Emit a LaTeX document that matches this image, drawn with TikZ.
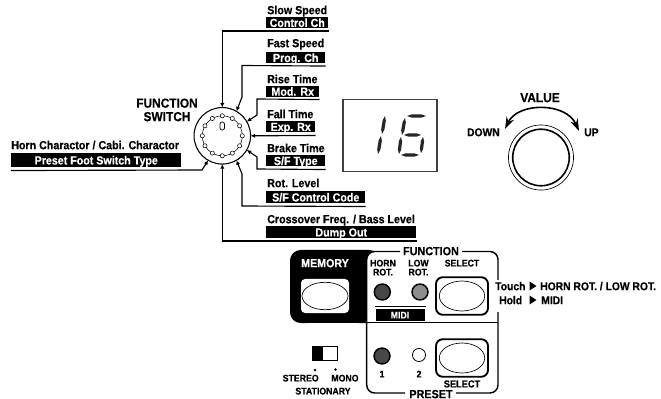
\documentclass[tikz,border=0pt]{standalone}
\usepackage{fontspec}
\usetikzlibrary{arrows.meta,calc}
\newfontfamily\lbf{Liberation Sans}[FakeStretch=0.91,FakeBold=0.4]
\tikzset{
 x=0.75pt,y=-0.75pt,
 lab/.style={font=\lbf\bfseries\fontsize{8.8}{9}\selectfont,inner sep=0,anchor=west,text=black,text height=6.3pt,text depth=0pt},
 ctr/.style={lab,anchor=center},
 big/.style={ctr,font=\lbf\bfseries\fontsize{9.8}{10}\selectfont,text height=7pt},
 small/.style={ctr,font=\lbf\bfseries\fontsize{7.2}{7.5}\selectfont,text height=5.2pt},
 bar/.style={draw=none,fill=black,text=white,font=\lbf\bfseries\fontsize{8.8}{9}\selectfont,inner sep=0,anchor=north west,text height=6.3pt,text depth=0pt,align=center},
 lead/.style={line width=0.85pt,black},
 tip/.style={lead,-{Latex[length=3.4pt,width=3.2pt]}},
 led/.style={circle,draw=black,line width=1.1pt,inner sep=0},
 btn/.style={draw=black,line width=1.4pt,rounded corners=5pt,fill=white},
 oval/.style={draw=black,line width=0.5pt,fill=white},
 panel/.style={line width=1.1pt,black,rounded corners=6pt},
 seg/.style={fill=black!85},
}
\newcommand\sgm[2]{\fill[seg] (#1) -- ($(#1)!.25!(#2)!1.2pt!90:(#2)$) -- ($(#1)!.75!(#2)!1.2pt!90:(#2)$) -- (#2) -- ($(#1)!.75!(#2)!1.2pt!-90:(#2)$) -- ($(#1)!.25!(#2)!1.2pt!-90:(#2)$) -- cycle;}
\begin{document}
\begin{tikzpicture}
\useasboundingbox (0,0) rectangle (661,399);
\fill[white] (0,0) rectangle (661,399);
% function switch
\node[circle,draw=black,line width=0.8pt,minimum size=42.4pt,inner sep=0,outer sep=0] (sw) at (222.3,135.8) {};
\draw[line width=0.4pt] (222.3,135.8) circle (20);
\foreach \a in {0,30,...,330}
  \draw[line width=0.4pt,fill=white] ($(222.3,135.8)+(\a:20)$) circle (2.1);
\draw[line width=0.5pt,rounded corners=1.5pt] (220,122) rectangle (224.5,130);
\node[big] (fn) at (167,103) {FUNCTION};
\node[big] (sn) at (167,116.5) {SWITCH};
% labels
\node[lab] (t1) at (267,10) {Slow Speed};
\node[bar,minimum width=62*0.75pt,minimum height=11*0.75pt] (b1) at (266,17) {Control Ch};
\node[lab] (t2) at (267,43) {Fast Speed};
\node[bar,minimum width=59*0.75pt,minimum height=11*0.75pt] (b2) at (266,52) {Prog. Ch};
\node[lab] (t3) at (267,79) {Rise Time};
\node[bar,minimum width=53*0.75pt,minimum height=10.5*0.75pt] (b3) at (266,86) {Mod. Rx};
\node[lab] (t4) at (267,114) {Fall Time};
\node[bar,minimum width=49*0.75pt,minimum height=11*0.75pt] (b4) at (266,121) {Exp. Rx};
\node[lab] (t5) at (267,148) {Brake Time};
\node[bar,minimum width=59*0.75pt,minimum height=11*0.75pt] (b5) at (266,155) {S/F Type};
\node[lab] (t6) at (267,183) {Rot. Level};
\node[bar,minimum width=99*0.75pt,minimum height=12*0.75pt] (b6) at (266,191) {S/F Control Code};
\node[lab] (t7) at (267,219) {Crossover Freq. / Bass Level};
\node[bar,minimum width=150*0.75pt,minimum height=12*0.75pt] (b7) at (266,226) {Dump Out};
\node[lab] (t8) at (11,145) {Horn Charactor / Cabi. Charactor};
\node[bar,minimum width=170*0.75pt,minimum height=14*0.75pt] (b8) at (11,153) {Preset Foot Switch Type};
% leaders
\draw[tip] (b1.south east)++(0,2.5) -| (sw.90);
\draw[tip] (b2.south east)++(0,2.5) -- (242,65.5) -- (242,97) -- (sw.60);
\draw[tip] (b3.south east)++(0,2.5) -- (257,99) -- (257,115) -- (sw.30);
\draw[tip] (b4.south east)++(0,3) -- (sw.0);
\draw[tip] (b5.south east)++(0,3) -- (257,169) -- (257,157) -- (sw.-30);
\draw[tip] (b6.south east)++(0,3) -- (242,206) -- (242,174) -- (sw.-60);
\draw[tip] (b7.south east)++(0,2.5) -| (sw.-90);
\draw[tip] (b8.south west)++(0,3) -- (202,170) -- (sw.-120);
% display
\node[draw=black!75,line width=0.8pt,minimum width=94*0.75pt,minimum height=72.5*0.75pt,inner sep=0] (disp) at (390,135.3) {};
\sgm{385,116}{382,134}\sgm{381,136}{378,154}
\sgm{407,116}{426,116}\sgm{405,118}{402,135}\sgm{404,135}{421,135}\sgm{401,137}{399,154}\sgm{401,155}{419,155}\sgm{423,137}{421,153}
% knob
\node[circle,draw=black,line width=0.5pt,minimum size=48.8pt,inner sep=0] (kn) at (541,157.5) {};
\node[circle,draw=black,line width=1.2pt,minimum size=42.4pt,inner sep=0] (kn2) at (541,157.5) {};
\node[big] (val) at (540,97.5) {VALUE};
\node[ctr,font=\lbf\bfseries\fontsize{8.5}{9}\selectfont,anchor=east] (dn) at (500,132) {DOWN};
\node[ctr,font=\lbf\bfseries\fontsize{8.5}{9}\selectfont,anchor=west] (up) at (584,132) {UP};
\coordinate (al) at (505,129);
\coordinate (ar) at (579,131);
\draw[line width=1.2pt,{Stealth[length=9pt,width=6pt]}-{Stealth[length=9pt,width=6pt]}] (al) .. controls (518,102) and (566,102) .. (ar);
% memory
\fill[black,rounded corners=8pt] (290,250) rectangle (380,323);
\fill[white,rounded corners=8pt] (366.5,323) rectangle (300,399);
\fill[white,rounded corners=6pt] (366.7,251) rectangle (400,290);
\fill[white] (366.7,270) rectangle (400,323);
\fill[white] (374,249) rectangle (402,251);
\node[ctr,text=white] (mem) at (325,263) {MEMORY};
\node[draw=none,fill=white,rounded corners=3pt,minimum width=48*0.75pt,minimum height=34*0.75pt,inner sep=0] (mb) at (325,296) {};
\draw[oval] (325,296) ellipse (23 and 13.7);
% panel
\draw[panel] (400,251.5) -- (366.7,251.5) -- (366.7,323);
\draw[panel] (462,251.5) -- (498,251.5) -- (498,280);
\draw[panel] (498,312) -- (498,393) -- (456,393);
\draw[panel] (405,393) -- (366.7,393) -- (366.7,322.7);
\draw[line width=1.1pt] (366.7,322.7) -- (498,322.7);
\node[ctr,font=\lbf\bfseries\fontsize{8.9}{10}\selectfont] (fnt) at (431,251) {FUNCTION};
\node[ctr,font=\lbf\bfseries\fontsize{8.9}{10}\selectfont] (pst) at (431,394) {PRESET};
\node[small] (hr) at (383,263) {HORN};
\node[small] (hr2) at (383,272) {ROT.};
\node[small] (lr) at (418.5,263) {LOW};
\node[small] (lr2) at (418.5,272) {ROT.};
\node[small] (s1) at (462,263) {SELECT};
\node[led,fill=black!72,minimum size=12pt] (l1) at (382.3,292) {};
\node[led,fill=black!45,minimum size=12pt] (l2) at (420,292) {};
\draw[line width=0.5pt] (375,306) -- (426,306);
\node[bar,anchor=center,minimum width=49*0.75pt,minimum height=11*0.75pt,text height=5.2pt,font=\lbf\bfseries\fontsize{7.2}{7.5}\selectfont] (midi) at (400,315) {MIDI};
\node[btn,minimum width=52*0.75pt,minimum height=37.5*0.75pt,inner sep=0] (sb1) at (462,296) {};
\draw[oval] (462,296) ellipse (22.7 and 15);
\node[btn,minimum width=52*0.75pt,minimum height=37.5*0.75pt,inner sep=0] (sb2) at (462,358) {};
\draw[oval] (462,358) ellipse (22.7 and 15);
\node[small,font=\lbf\bfseries\fontsize{7.6}{8}\selectfont] (s2) at (462,384) {SELECT};
\node[led,fill=black!72,minimum size=12pt] (l3) at (382,356) {};
\node[led,fill=white,line width=0.6pt,minimum size=9.8pt] (l4) at (419,355) {};
\node[small] (n1) at (382,374) {1};
\node[small] (n2) at (419,374) {2};
% touch hold
\node[lab,font=\lbf\bfseries\fontsize{8.5}{9}\selectfont] (tc) at (495,286) {Touch};
\fill (529.5,281.5) -- (536.5,286) -- (529.5,290.5) -- cycle;
\node[lab,font=\lbf\bfseries\fontsize{8.5}{9}\selectfont] (hr3) at (540,286) {HORN ROT. / LOW ROT.};
\node[lab,font=\lbf\bfseries\fontsize{8.5}{9}\selectfont] (hd) at (499,300) {Hold};
\fill (529.5,295.5) -- (536.5,300) -- (529.5,304.5) -- cycle;
\node[lab,font=\lbf\bfseries\fontsize{8.5}{9}\selectfont] (md) at (541,300) {MIDI};
% stationary
\node[draw=black,line width=0.6pt,minimum width=24.6*0.75pt,minimum height=14*0.75pt,inner sep=0] (sl) at (325,353.7) {};
\fill (312.7,346.7) rectangle (323,360.7);
\fill (315,370) circle (1.3);
\fill (335.5,369.5) circle (1.3);
\node[small] (st) at (300.7,378) {STEREO};
\node[small] (mo) at (345,378) {MONO};
\node[small] (sy) at (323,391) {STATIONARY};
\end{tikzpicture}
\end{document}
